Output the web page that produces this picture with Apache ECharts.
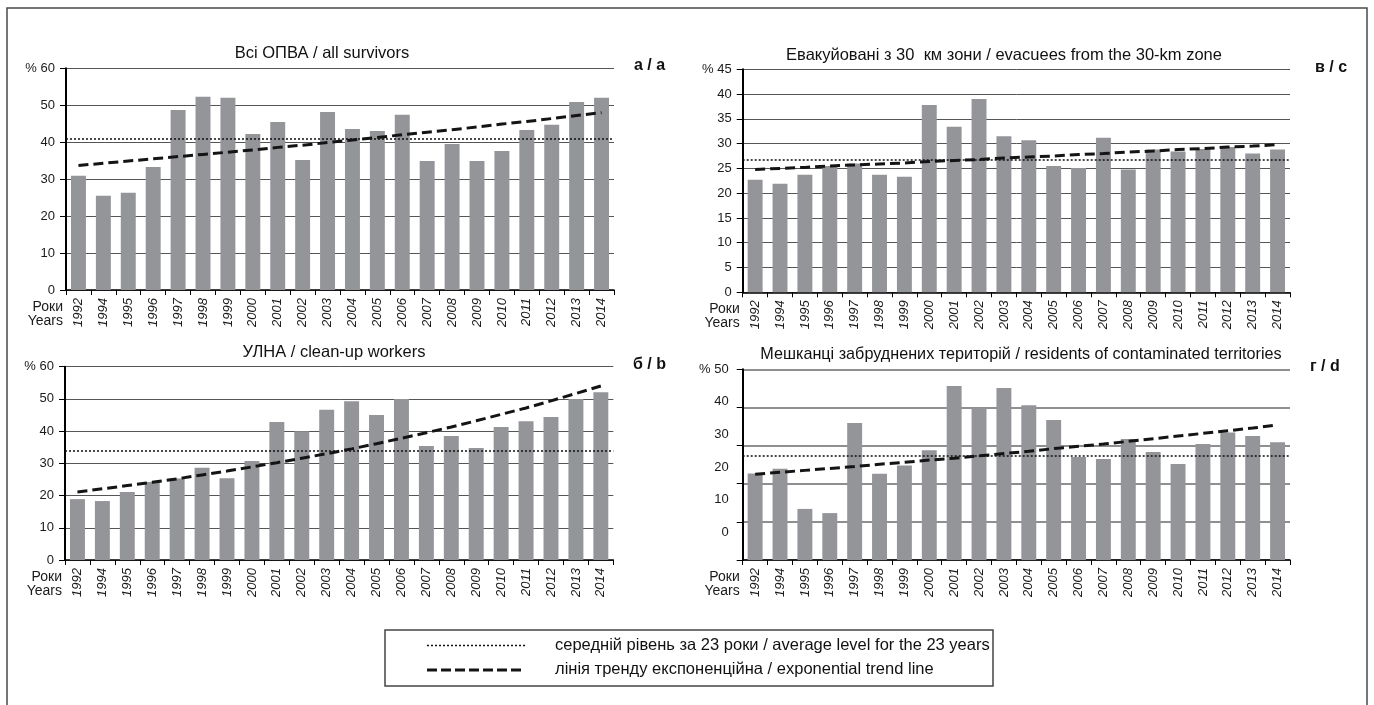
<!DOCTYPE html>
<html>
<head>
<meta charset="utf-8">
<script src="https://cdn.jsdelivr.net/npm/echarts@6/dist/echarts.min.js"></script>
<style>
  html, body { margin: 0; padding: 0; background: #fff; }
  #chart { width: 1374px; height: 705px; }
</style>
</head>
<body>
<div id="chart"></div>
<script>
// Survey years (1993 not surveyed)
const years = ['1992','1994','1995','1996','1997','1998','1999','2000','2001','2002','2003',
               '2004','2005','2006','2007','2008','2009','2010','2011','2012','2013','2014'];

// а / a — all survivors, %
const allSurvivors = [30.9, 25.5, 26.3, 33.3, 48.7, 52.3, 52.0, 42.2, 45.5, 35.2, 48.2,
                      43.6, 43.0, 47.4, 34.9, 39.5, 34.9, 37.6, 43.3, 44.7, 50.9, 52.0];
const allSurvivorsTrend = [33.7, 34.3, 34.9, 35.5, 36.1, 36.7, 37.3, 37.9, 38.6, 39.2, 39.9,
                           40.6, 41.3, 42.0, 42.7, 43.4, 44.1, 44.9, 45.6, 46.4, 47.2, 48.0];
const allSurvivorsAvg = 41.0;

// б / b — clean-up workers, %
const cleanupWorkers = [18.9, 18.3, 21.1, 24.2, 25.3, 28.6, 25.4, 30.7, 42.8, 40.0, 46.6,
                        49.3, 45.0, 50.0, 35.4, 38.5, 34.8, 41.3, 43.1, 44.4, 50.0, 52.1];
const cleanupWorkersTrend = [21.1, 22.1, 23.1, 24.1, 25.2, 26.4, 27.6, 28.9, 30.2, 31.6, 33.0,
                             34.5, 36.1, 37.8, 39.5, 41.3, 43.2, 45.2, 47.2, 49.4, 51.7, 54.0];
const cleanupWorkersAvg = 33.8;

// в / c — evacuees from the 30-km zone, %
const evacuees = [22.7, 21.9, 23.7, 25.5, 26.0, 23.7, 23.3, 37.8, 33.4, 39.0, 31.5,
                  30.7, 25.5, 25.1, 31.2, 24.8, 28.8, 28.4, 28.9, 29.3, 28.0, 28.8];
const evacueesTrend = [24.8, 25.0, 25.2, 25.5, 25.7, 25.9, 26.1, 26.4, 26.6, 26.8, 27.1,
                       27.3, 27.5, 27.8, 28.0, 28.3, 28.5, 28.8, 29.0, 29.3, 29.5, 29.8];
const evacueesAvg = 26.8;

// г / d — residents of contaminated territories, %
const residents = [22.7, 23.9, 13.4, 12.3, 35.9, 22.6, 24.8, 28.8, 45.6, 39.9, 45.1,
                   40.6, 36.7, 27.0, 26.5, 31.7, 28.3, 25.2, 30.4, 33.4, 32.5, 30.9];
const residentsTrend = [22.5, 23.0, 23.5, 24.0, 24.5, 25.1, 25.6, 26.2, 26.7, 27.3, 27.9,
                        28.5, 29.2, 29.8, 30.4, 31.1, 31.8, 32.5, 33.2, 33.9, 34.6, 35.4];
const residentsAvg = 27.4;

// Y-axis scales
const yRangeA = [0, 60, 10];
const yRangeB = [0, 60, 10];
const yRangeC = [0, 45, 5];
const yRangeD = [0, 50, 10];
// printed tick labels of panel г / d sit on their own (offset) scale
const yLabelsD = [0, 10, 20, 30, 40, 50];
const yLabelRangeD = [-8.5, 50];

// Text
const titles = [
  'Всі ОПВА / all survivors',
  'Евакуйовані з 30  км зони / evacuees from the 30-km zone',
  'УЛНА / clean-up workers',
  'Мешканці забруднених територій / residents of contaminated territories'
];
const tags = ['а / a', 'в / c', 'б / b', 'г / d'];
const legendTexts = [
  'середній рівень за 23 роки / average level for the 23 years',
  'лінія тренду експоненційна / exponential trend line'
];

const FONT = '"Liberation Sans", Arial, sans-serif';
const BAR_COLOR = '#939598';
const GRID_COLOR = '#555';
const DOT_STYLE = { color: '#111', width: 1.5, type: [2, 2] };
const DASH_STYLE = { color: '#141414', width: 3, type: [10, 5] };

const panels = [
  { grid: { left: 66, top: 68.3, width: 548, height: 221.7 }, range: yRangeA,
    bars: allSurvivors, trend: allSurvivorsTrend, avg: allSurvivorsAvg,
    title: titles[0], titleX: 322, titleY: 53, tag: tags[0], tagX: 634, tagY: 66, titleSize: 16.5 },
  { grid: { left: 742.7, top: 69.3, width: 547.3, height: 223 }, range: yRangeC,
    bars: evacuees, trend: evacueesTrend, avg: evacueesAvg,
    title: titles[1], titleX: 1004, titleY: 55, tag: tags[1], tagX: 1315, tagY: 68, titleSize: 16.5 },
  { grid: { left: 65, top: 366.7, width: 548.3, height: 193.3 }, range: yRangeB,
    bars: cleanupWorkers, trend: cleanupWorkersTrend, avg: cleanupWorkersAvg,
    title: titles[2], titleX: 334, titleY: 352.7, tag: tags[2], tagX: 633, tagY: 365, titleSize: 16.5 },
  { grid: { left: 742.7, top: 369.3, width: 547.3, height: 190.7 }, range: yRangeD,
    bars: residents, trend: residentsTrend, avg: residentsAvg,
    title: titles[3], titleX: 1021, titleY: 354.3, tag: tags[3], tagX: 1310, tagY: 367, titleSize: 16.2,
    offsetLabels: true }
];

const grids = [], xAxes = [], yAxes = [], series = [], graphics = [];

panels.forEach((p, i) => {
  grids.push(Object.assign({ containLabel: false }, p.grid));

  xAxes.push({
    type: 'category', gridIndex: i, data: years, boundaryGap: true,
    axisLine: { lineStyle: { color: '#000', width: 1.5 } },
    axisTick: { show: true, length: 5, lineStyle: { color: '#000', width: 1 } },
    axisLabel: {
      interval: 0, rotate: 90, margin: 8, fontFamily: FONT, fontSize: 13,
      fontStyle: 'italic', color: '#1a1a1a'
    },
    splitLine: { show: false }
  });

  yAxes.push({
    type: 'value', gridIndex: i, min: p.range[0], max: p.range[1], interval: p.range[2],
    axisLine: { show: true, lineStyle: { color: '#000', width: 2 } },
    axisTick: { show: true, length: 6, lineStyle: { color: '#000', width: 1 } },
    axisLabel: p.offsetLabels ? { show: false } : {
      margin: 11, fontFamily: FONT, fontSize: 13, color: '#1a1a1a',
      formatter: v => (v === p.range[1] ? '% ' + v : String(v))
    },
    splitLine: { show: true, lineStyle: { color: p.offsetLabels ? '#6a6a6a' : GRID_COLOR,
                                          width: p.offsetLabels ? 1.5 : 1 } }
  });
  const yIndex = yAxes.length - 1;

  series.push({
    type: 'bar', xAxisIndex: i, yAxisIndex: yIndex, data: p.bars,
    barCategoryGap: '40%', itemStyle: { color: BAR_COLOR }, z: 2,
    markLine: {
      silent: true, symbol: ['none', 'none'], label: { show: false },
      lineStyle: DOT_STYLE, data: [{ yAxis: p.avg }], z: 4
    }
  });
  series.push({
    type: 'line', xAxisIndex: i, yAxisIndex: yIndex, data: p.trend,
    symbol: 'none', lineStyle: DASH_STYLE, z: 5, silent: true
  });

  graphics.push({
    type: 'text', x: p.titleX, y: p.titleY,
    style: { text: p.title, font: p.titleSize + 'px ' + FONT, fill: '#111',
             align: 'center', verticalAlign: 'middle' }
  });
  graphics.push({
    type: 'text', x: p.tagX, y: p.tagY,
    style: { text: p.tag, font: 'bold 16px ' + FONT, fill: '#111',
             align: 'left', verticalAlign: 'middle' }
  });
  const axisBottom = p.grid.top + p.grid.height;
  graphics.push({
    type: 'text', x: p.grid.left - 3, y: axisBottom + 17,
    style: { text: 'Роки', font: '14px ' + FONT, fill: '#1a1a1a',
             align: 'right', verticalAlign: 'middle' }
  });
  graphics.push({
    type: 'text', x: p.grid.left - 3, y: axisBottom + 31,
    style: { text: 'Years', font: '14px ' + FONT, fill: '#1a1a1a',
             align: 'right', verticalAlign: 'middle' }
  });
});

// separate label scale for panel г / d
yAxes.push({
  type: 'value', gridIndex: 3, position: 'left',
  min: yLabelRangeD[0], max: yLabelRangeD[1],
  axisLine: { show: false }, axisTick: { show: false }, splitLine: { show: false },
  axisLabel: {
    customValues: yLabelsD, margin: 14, fontFamily: FONT, fontSize: 13, color: '#1a1a1a',
    formatter: v => (v === yLabelRangeD[1] ? '% ' + v : String(v))
  }
});

// outer frame
graphics.push({
  type: 'rect', shape: { x: 7, y: 8, width: 1360, height: 730 },
  style: { fill: 'none', stroke: '#4a4a4a', lineWidth: 1.5 }, z: 0
});

// legend box
graphics.push({
  type: 'rect', shape: { x: 385, y: 630, width: 608, height: 56 },
  style: { fill: '#fff', stroke: '#444', lineWidth: 1.5 }, z: 1
});
graphics.push({
  type: 'line', shape: { x1: 427, y1: 645.5, x2: 525, y2: 645.5 },
  style: { stroke: '#111', lineWidth: 1.5, lineDash: [2, 2] }, z: 2
});
graphics.push({
  type: 'line', shape: { x1: 427, y1: 670, x2: 525, y2: 670 },
  style: { stroke: '#141414', lineWidth: 3, lineDash: [10, 4] }, z: 2
});
graphics.push({
  type: 'text', x: 555, y: 645.5, z: 2,
  style: { text: legendTexts[0], font: '16.5px ' + FONT, fill: '#111', verticalAlign: 'middle' }
});
graphics.push({
  type: 'text', x: 555, y: 669.5, z: 2,
  style: { text: legendTexts[1], font: '16.5px ' + FONT, fill: '#111', verticalAlign: 'middle' }
});

const chart = echarts.init(document.getElementById('chart'), null, { renderer: 'canvas' });
chart.setOption({
  backgroundColor: '#fff',
  animation: false,
  grid: grids,
  xAxis: xAxes,
  yAxis: yAxes,
  series: series,
  graphic: graphics
});
</script>
</body>
</html>
